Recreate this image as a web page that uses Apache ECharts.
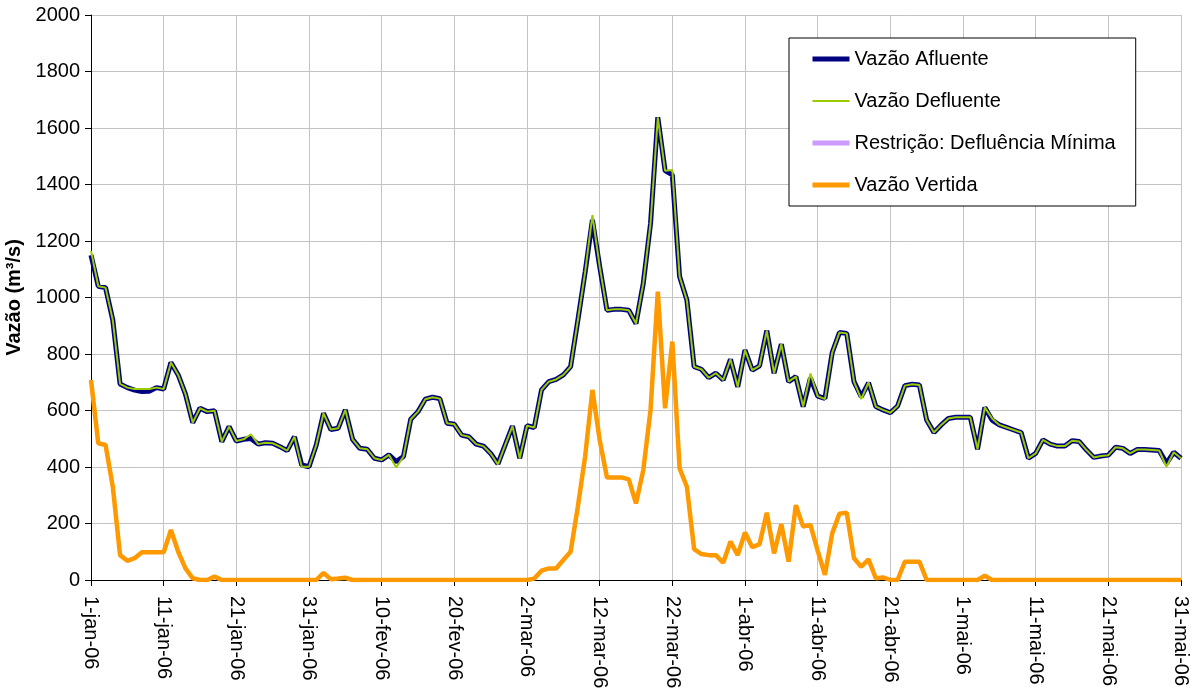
<!DOCTYPE html>
<html><head><meta charset="utf-8">
<script src="https://cdn.jsdelivr.net/npm/echarts@6/dist/echarts.min.js"></script>
<style>html,body{margin:0;padding:0;background:#fff}#c{width:1193px;height:688px}</style>
</head><body><div id="c"></div>
<script>
// Category labels: daily, 1-jan-06 .. 31-mai-06
const monthNames = ['jan','fev','mar','abr','mai'];
const monthLengths = [31,28,31,30,31];
const categories = [];
monthNames.forEach(function(m, i){ for (let d = 1; d <= monthLengths[i]; d++) categories.push(d + '-' + m + '-06'); });

const seriesNames = ['Vazão Afluente','Vazão Defluente','Restrição: Defluência Mínima','Vazão Vertida'];

const afluente = [
1150,1040,1035,920,694,681,672,667,668,681,
676,770,726,658,557,608,596,599,490,543,
492,498,501,481,486,484,472,458,507,407,
401,478,590,533,537,602,498,466,463,431,
425,443,419,437,569,596,640,647,642,555,
551,513,507,481,474,448,411,478,545,431,
546,540,673,702,710,726,755,920,1090,1275,
1110,955,958,958,955,908,1050,1262,1638,1449,
1434,1074,991,755,746,716,732,708,781,684,
814,743,758,883,732,835,702,720,614,715,
651,643,805,876,873,702,649,698,614,602,
592,616,688,693,690,566,522,549,572,576,
576,576,463,611,566,549,540,531,522,431,
448,496,481,474,474,493,490,460,434,439,
442,470,466,448,462,462,460,458,413,452,
431];

const defluente = [
1165,1040,1035,920,694,681,676,676,676,681,
676,770,726,658,557,608,596,599,490,543,
492,498,516,481,486,484,472,458,507,401,
401,478,590,533,537,602,498,466,463,431,
425,443,398,437,569,596,640,647,642,555,
551,513,507,481,474,448,409,478,545,431,
546,540,673,702,710,726,755,920,1090,1292,
1110,955,958,958,955,908,1050,1262,1638,1449,
1451,1074,991,755,746,716,732,708,781,684,
814,743,758,883,732,835,702,720,614,731,
651,640,805,876,873,702,640,700,614,602,
592,616,688,693,690,566,522,549,572,576,
576,576,463,611,572,549,540,531,522,431,
448,496,481,474,474,493,490,460,434,439,
442,470,466,448,462,462,460,458,401,452,
431];

const restricao = [];

const vertida = [
708,484,478,330,88,68,77,98,98,98,
98,177,100,41,6,0,0,12,0,0,
0,0,0,0,0,0,0,0,0,0,
0,0,25,3,5,8,0,0,0,0,
0,0,0,0,0,0,0,0,0,0,
0,0,0,0,0,0,0,0,0,0,
0,5,33,41,41,71,100,260,437,673,
496,363,363,363,356,271,389,602,1021,608,
844,395,330,109,92,88,88,61,136,88,
168,116,127,238,94,198,65,265,189,195,
104,18,165,235,238,77,47,73,6,9,
0,0,65,65,65,0,0,0,0,0,
0,0,0,15,0,0,0,0,0,0,
0,0,0,0,0,0,0,0,0,0,
0,0,0,0,0,0,0,0,0,0,
0];

const yMin = 0, yMax = 2000, yStep = 200;
const FONT = "'Liberation Sans', Arial, sans-serif";
const colors = ['#000080', '#99cc00', '#cc99ff', '#ff9900'];
const widths = [5, 2, 5, 4.5];

const chart = echarts.init(document.getElementById('c'), null, {renderer:'canvas'});
chart.setOption({
  animation: false,
  backgroundColor: '#fff',
  textStyle: {fontFamily: FONT},
  grid: {left: 91, right: 12, top: 15, bottom: 108, containLabel: false, outerBoundsMode: 'none'},
  legend: {
    orient: 'vertical', left: 789, top: 38,
    padding: [11, 20, 11, 21], itemGap: 22, itemWidth: 37, itemHeight: 20,
    backgroundColor: '#fff', borderColor: '#000', borderWidth: 1, borderRadius: 0,
    textStyle: {fontSize: 20, color: '#000', fontFamily: FONT},
    itemStyle: {color: 'rgba(0,0,0,0)', borderWidth: 0, opacity: 0},
    data: seriesNames.map(function(n, i){
      return {name: n, itemStyle: {color: 'rgba(0,0,0,0)', borderWidth: 0, opacity: 0},
              lineStyle: {color: colors[i], width: i === 1 ? 2 : 5}};
    })
  },
  xAxis: {
    type: 'category', data: categories, boundaryGap: false,
    axisLine: {lineStyle: {color: '#000', width: 1}},
    axisTick: {show: true, interval: 9, length: 6, lineStyle: {color: '#000'}},
    axisLabel: {interval: 9, rotate: -90, fontSize: 20, color: '#000', margin: 16, fontFamily: FONT},
    splitLine: {show: true, interval: 9, lineStyle: {color: '#c4c4c4', width: 1}}
  },
  yAxis: {
    type: 'value', min: yMin, max: yMax, interval: yStep,
    name: 'Vazão (m³/s)', nameLocation: 'middle', nameGap: 61,
    nameTextStyle: {fontSize: 20, fontWeight: 'bold', color: '#000', fontFamily: FONT},
    axisLine: {show: true, lineStyle: {color: '#000', width: 1}},
    axisTick: {show: true, length: 6, lineStyle: {color: '#000'}},
    axisLabel: {fontSize: 20, color: '#000', margin: 11, fontFamily: FONT,
                formatter: function(v){ return String(v); }},
    splitLine: {show: true, lineStyle: {color: '#c4c4c4', width: 1}}
  },
  series: seriesNames.map(function(n, i){
    return {name: n, type: 'line', data: [afluente, defluente, restricao, vertida][i],
            symbol: 'none', color: colors[i], lineStyle: {color: colors[i], width: widths[i]}};
  })
});
</script></body></html>
